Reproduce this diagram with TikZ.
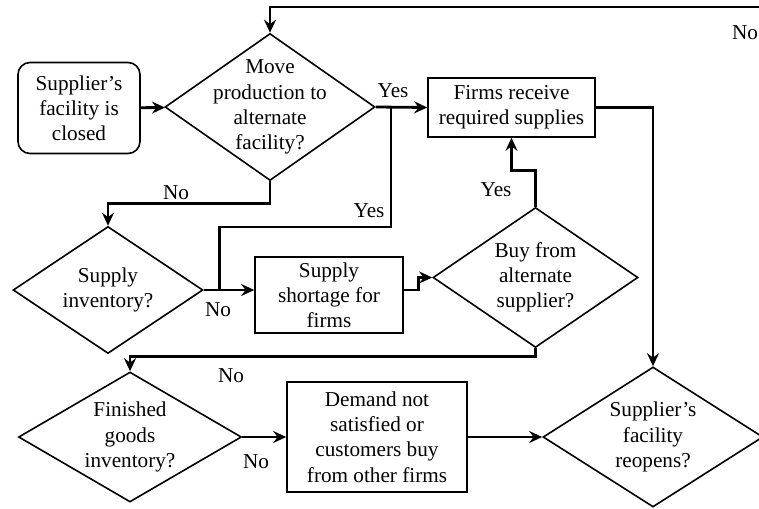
\documentclass[tikz,border=0pt]{standalone}
\usepackage{fontspec}
\setmainfont{Liberation Serif}
\usetikzlibrary{shapes.geometric,arrows.meta}

\begin{document}
\begin{tikzpicture}[x=0.5pt,y=-0.5pt,
	every node/.style={font=\fontsize{10.6}{12.6}\selectfont},
	decision/.style={diamond, draw, line width=0.8pt, inner sep=0pt},
	process/.style={rectangle, draw, line width=0.8pt, inner sep=0pt},
	dtext/.style={align=center, inner sep=0pt},
	lbl/.style={inner sep=0pt},
	flow/.style={line width=1.4pt, -{Stealth[length=6.5pt,width=6pt,inset=2.2pt]}},
	link/.style={line width=1.4pt}
	]
	
	% ---- Frame of the picture ----
	\useasboundingbox (0,0) rectangle (759,508);
	\clip (0,0) rectangle (759,508);
	
	% ---- Boxes ----
	\node[process, rounded corners=6pt, minimum width=61pt, minimum height=45.5pt, align=center] (closed) at (79,108) {Supplier’s\\facility is\\closed};
	\node[process, minimum width=83.5pt, minimum height=29.5pt, align=center] (firms) at (511.5,107.5) {Firms receive\\required supplies};
	\node[process, minimum width=74pt, minimum height=38pt, align=center] (shortage) at (329,295) {Supply\\shortage for\\firms};
	\node[process, minimum width=90pt, minimum height=55pt, align=center] (demand) at (377,437) {Demand not\\satisfied or\\customers buy\\from other firms};
	
	% ---- Decisions (shape, then its text) ----
	\foreach \name/\x/\y/\w/\h in {
		move/270/107/105/73.5,
		supinv/108/290/95/63.5,
		buy/535.5/277.5/102.5/70,
		finished/130/437/111.5/65,
		reopens/653/437/110/70
	}
	{
		\node[decision, minimum width=\w pt, minimum height=\h pt] (\name) at (\x,\y) {};
	}
	\node[dtext] (move text) at (move) {Move\\production to\\alternate\\facility?};
	\node[dtext] (supinv text) at (supinv) {Supply\\inventory?};
	\node[dtext] (buy text) at (buy) {Buy from\\alternate\\supplier?};
	\node[dtext] (finished text) at (finished) {Finished\\goods\\inventory?};
	\node[dtext] (reopens text) at (reopens) {Supplier’s\\facility\\reopens?};
	
	% ---- Joints ----
	\coordinate (yesjoin) at (391,227);
	\coordinate (back) at (270,7);
	
	% ---- Connectors ----
	\draw[flow] (closed) -- (move);
	\draw[flow] (move.east) -- (firms.west);
	\draw[flow] (move.south) -- ++(0,22) -| (supinv.north);
	\draw[flow] (supinv.east) -- (shortage.west |- supinv.east);
	\draw[link] (supinv.east) -- ++(16,0) |- (yesjoin) -- (yesjoin |- firms.west);
	\draw[flow] (shortage.east |- supinv.east) -- ++(15,0) |- (buy.west);
	\draw[flow] (buy.north) -- ++(0,-36) -| (firms.south);
	\draw[flow] (buy.south) -- ++(0,8) -| (finished.north);
	\draw[flow] (finished.east) -- (demand.west);
	\draw[flow] (demand.east) -- (reopens.west);
	\draw[flow] (firms.east) -| (reopens.north);
	\draw[flow] (reopens.east) -- ++(20,0) |- (back) -- (move.north);
	
	% ---- Labels ----
	\node[lbl] (yesA) at (393,91) {Yes};
	\node[lbl] (yesB) at (369,211) {Yes};
	\node[lbl] (yesC) at (496,190) {Yes};
	\node[lbl] (noA) at (176,193) {No};
	\node[lbl] (noB) at (218,310) {No};
	\node[lbl] (noC) at (231,376) {No};
	\node[lbl] (noD) at (256,462) {No};
	\node[lbl] (noE) at (745,33) {No};
	
\end{tikzpicture}
\end{document}
